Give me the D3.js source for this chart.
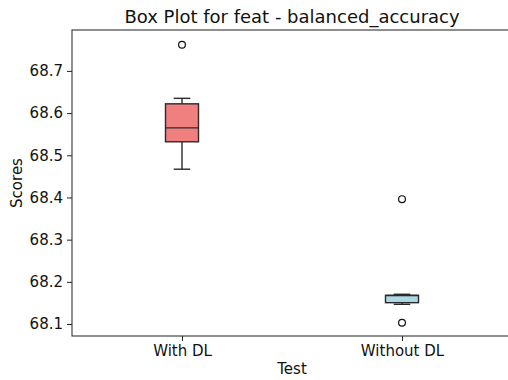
<!DOCTYPE html>
<html>
<head>
<meta charset="utf-8">
<script src="https://cdn.jsdelivr.net/npm/d3@7"></script>
<style>
  html, body { margin: 0; padding: 0; background: #fff; }
  svg { display: block; font-family: "DejaVu Sans", sans-serif; }
</style>
</head>
<body>
<svg id="chart" width="508" height="380"></svg>
<script>
// Box summaries for each test group
const categories = ["With DL", "Without DL"];
const whiskerLow = [68.467, 68.1468];
const q1 = [68.532, 68.1506];
const median = [68.565, 68.1675];
const q3 = [68.622, 68.168];
const whiskerHigh = [68.635, 68.1705];
const outliers = [[68.762], [68.396, 68.103]];
const boxColors = ["#F08080", "#ADD8E6"];
const yTicks = [68.1, 68.2, 68.3, 68.4, 68.5, 68.6, 68.7];

const svg = d3.select("#chart");
const plotLeft = 72, plotRight = 512, plotTop = 30, plotBottom = 336;
const tickFont = 15, titleFont = 18;

// positions 1..n on a 0.5..n+0.5 domain
const x = d3.scaleLinear().domain([0.5, categories.length + 0.5]).range([plotLeft, plotRight]);
const y = d3.scaleLinear().domain([68.0716, 68.797]).range([plotBottom, plotTop]);
const boxW = 0.15;

const yAxis = d3.axisLeft(y).tickValues(yTicks).tickFormat(d3.format(".1f")).tickSizeOuter(0).tickSize(5).tickPadding(4);
const gy = svg.append("g").attr("transform", `translate(${plotLeft},0)`).call(yAxis);
gy.selectAll("text").attr("font-size", tickFont).attr("fill", "#111").attr("font-family", "DejaVu Sans");
gy.selectAll(".tick line").attr("stroke", "#222");
gy.select(".domain").remove();

const xAxis = d3.axisBottom(x).tickValues(categories.map((c, i) => i + 1))
  .tickFormat((d) => categories[d - 1]).tickSizeOuter(0).tickSize(5).tickPadding(4);
const gx = svg.append("g").attr("transform", `translate(0,${plotBottom})`).call(xAxis);
gx.selectAll("text").attr("font-size", tickFont).attr("fill", "#111").attr("font-family", "DejaVu Sans");
gx.selectAll(".tick line").attr("stroke", "#222");
gx.select(".domain").remove();

// frame
svg.append("rect").attr("x", plotLeft).attr("y", plotTop).attr("width", plotRight - plotLeft).attr("height", plotBottom - plotTop)
  .attr("fill", "none").attr("stroke", "#333").attr("stroke-width", 1.1);

const g = svg.append("g");
categories.forEach((c, i) => {
  const p = i + 1;
  const cx = x(p);
  const x0 = x(p - boxW / 2), x1 = x(p + boxW / 2);
  const c0 = x(p - boxW / 4), c1 = x(p + boxW / 4);
  const stroke = "#2a2a2a", sw = 1.4;
  // whiskers
  g.append("line").attr("x1", cx).attr("x2", cx).attr("y1", y(q1[i])).attr("y2", y(whiskerLow[i]))
    .attr("stroke", stroke).attr("stroke-width", sw);
  g.append("line").attr("x1", cx).attr("x2", cx).attr("y1", y(q3[i])).attr("y2", y(whiskerHigh[i]))
    .attr("stroke", stroke).attr("stroke-width", sw);
  // caps
  [whiskerLow[i], whiskerHigh[i]].forEach((v) => {
    g.append("line").attr("x1", c0).attr("x2", c1).attr("y1", y(v)).attr("y2", y(v))
      .attr("stroke", stroke).attr("stroke-width", sw);
  });
  // box
  g.append("rect").attr("x", x0).attr("y", y(q3[i])).attr("width", x1 - x0)
    .attr("height", y(q1[i]) - y(q3[i])).attr("fill", boxColors[i])
    .attr("stroke", stroke).attr("stroke-width", sw);
  // median
  g.append("line").attr("x1", x0).attr("x2", x1).attr("y1", y(median[i])).attr("y2", y(median[i]))
    .attr("stroke", stroke).attr("stroke-width", sw);
  // fliers
  outliers[i].forEach((v) => {
    g.append("circle").attr("cx", cx).attr("cy", y(v)).attr("r", 3.4)
      .attr("fill", "none").attr("stroke", "#111").attr("stroke-width", 1.2);
  });
});

svg.append("text").attr("x", (plotLeft + plotRight) / 2).attr("y", 23).attr("text-anchor", "middle")
  .attr("font-size", titleFont).attr("fill", "#111").text("Box Plot for feat - balanced_accuracy");
svg.append("text").attr("x", (plotLeft + plotRight) / 2).attr("y", 374).attr("text-anchor", "middle")
  .attr("font-size", tickFont).attr("fill", "#111").text("Test");
svg.append("text").attr("transform", `translate(22,${(plotTop + plotBottom) / 2}) rotate(-90)`)
  .attr("text-anchor", "middle").attr("font-size", tickFont).attr("fill", "#111").text("Scores");
</script>
</body>
</html>
